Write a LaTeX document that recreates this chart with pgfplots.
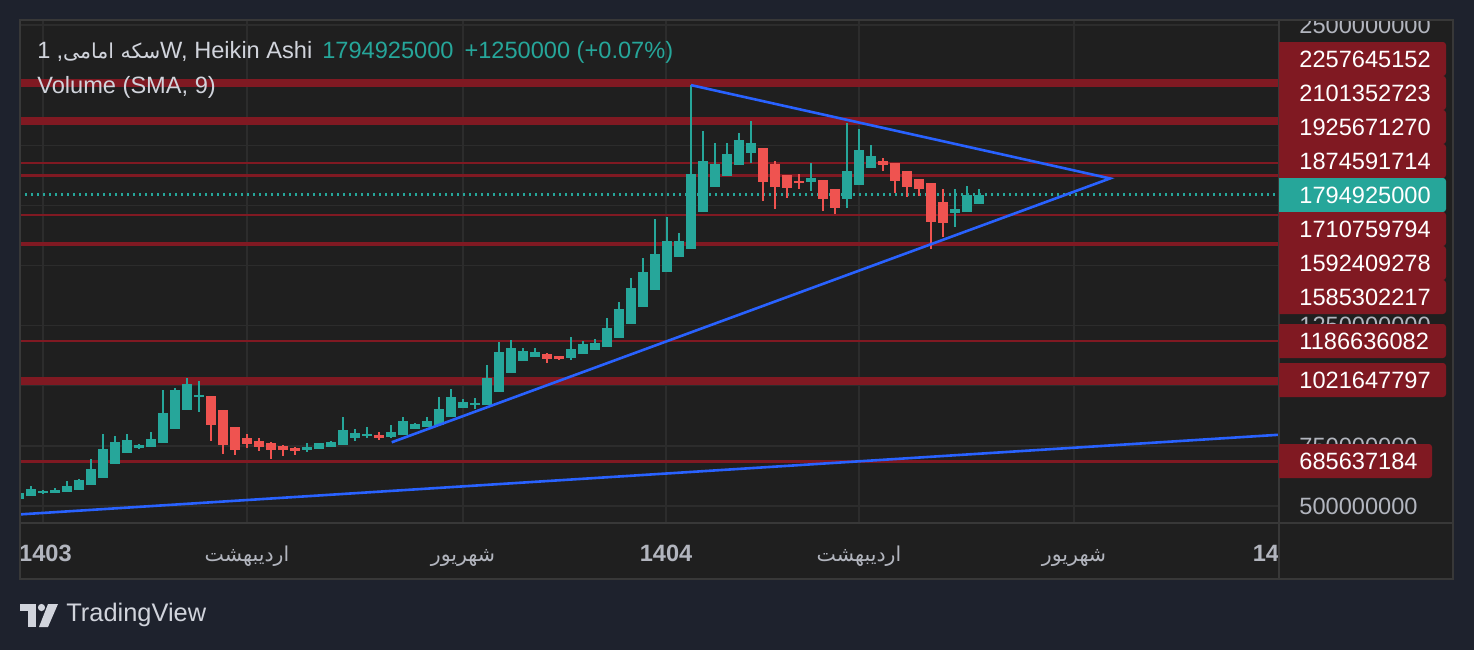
\documentclass[border=0pt]{standalone}
\usepackage{pgfplots}
\pgfplotsset{compat=1.18}
\usepackage{pgfplotstable}
\usepackage{fontspec}
\setmainfont{Liberation Sans}
\newfontfamily\arabicfont[Script=Arabic,Scale=0.87]{DejaVu Sans}
\TeXXeTstate=1
\newcommand\fa[1]{{\arabicfont\beginR #1\endR}}
\newcommand\fs{\fontsize{11.8}{14}\selectfont}
\definecolor{outerbg}{HTML}{1E222D}
\definecolor{panelbg}{HTML}{1F1F1F}
\definecolor{gridc}{HTML}{2C2C2C}
\definecolor{sepc}{HTML}{383838}
\definecolor{upc}{HTML}{26A69A}
\definecolor{dnc}{HTML}{EF5350}
\definecolor{lvl}{HTML}{801922}
\definecolor{trend}{HTML}{2962FF}
\definecolor{txt}{HTML}{B2B5BE}
\definecolor{ttl}{HTML}{D1D4DC}

\pgfplotstableread{
x o h l c
-2 529 554 529 554
-1 542 583 542 571
0 554 567 550 562
1 554 575 554 567
2 558 604 558 583
3 567 612 567 608
4 587 695 587 654
5 616 799 616 737
6 675 791 675 766
7 720 799 720 774
8 742 758 738 752
9 745 808 745 779
10 762 982 762 887
11 820 991 820 982
12 899 1032 899 1007
13 955 1020 891 962
22 733 762 725 745
23 737 762 737 762
24 745 770 745 766
25 754 870 754 816
26 783 820 770 804
27 791 829 783 799
29 787 837 783 808
30 795 870 795 853
31 820 845 820 841
32 829 870 829 853
33 837 953 837 903
34 870 987 870 953
35 908 945 908 932
36 920 949 903 928
37 920 1086 920 1032
38 974 1182 974 1140
39 1053 1190 1053 1157
40 1103 1157 1103 1145
41 1120 1157 1120 1140
44 1115 1203 1107 1153
45 1132 1186 1132 1174
46 1149 1194 1149 1178
47 1161 1282 1161 1240
48 1199 1348 1199 1319
49 1257 1448 1257 1406
50 1327 1531 1327 1473
51 1398 1693 1398 1548
52 1473 1702 1473 1602
53 1535 1635 1535 1602
54 1569 2250 1569 1880
55 1722 2059 1722 1935
56 1826 2009 1826 1922
57 1872 2009 1872 1964
58 1918 2051 1918 2022
59 1968 2101 1926 2009
64 1847 1926 1810 1864
67 1777 2093 1739 1893
68 1835 2068 1835 1980
69 1905 2001 1905 1955
76 1718 1818 1660 1735
77 1722 1831 1722 1793
78 1756 1818 1756 1795
}\uptable

\pgfplotstableread{
x o h l c
14 957 957 770 837
15 899 899 716 754
16 829 829 712 733
17 783 799 741 758
18 770 783 729 745
19 762 766 695 733
20 750 754 708 733
21 741 745 712 729
28 795 808 774 783
42 1132 1136 1095 1111
43 1124 1124 1107 1111
60 1989 1989 1768 1847
61 1922 1935 1735 1826
62 1876 1876 1781 1822
63 1851 1881 1818 1843
65 1856 1856 1727 1777
66 1818 1818 1714 1739
70 1935 1947 1893 1918
71 1926 1926 1802 1851
72 1893 1893 1785 1826
73 1860 1860 1789 1818
74 1843 1843 1569 1681
75 1764 1818 1619 1677
}\downtable

\newcommand\pbox[4]{%
  \fill[#3] (1279,#1) [rounded corners=1.5pt] -- (#2,#1) -- (#2,#1+34) [sharp corners] -- (1279,#1+34) -- cycle;
  \node[anchor=west, inner sep=0pt, text=white, font=\fs] at (1299,#1+17) {#4};}

\begin{document}
\begin{tikzpicture}
\begin{scope}[x=0.5pt,y=-0.5pt,shift={(0,325pt)}]
\path[use as bounding box] (0,0) rectangle (1474,650);
\fill[outerbg] (0,0) rectangle (1474,650);
\fill[panelbg] (20,20) rectangle (1453,579);
\end{scope}

\begin{axis}[
  at={(10pt,63.5pt)}, anchor=south west,
  scale only axis, width=629.5pt, height=251.5pt,
  xmin=-1.9167, xmax=103, ymin=429.3, ymax=2520.8,
  axis line style={draw=sepc, line width=0.6pt},
  major tick length=0pt,
  grid=major, major grid style={draw=gridc, line width=0.7pt},
  xtick={0,17,35,51.92,68,85.92,103},
  xticklabels={{\bfseries\hspace{2.5pt}1403},{\fa{اردیبهشت}},{\fa{شهریور}},{\bfseries 1404},{\fa{اردیبهشت}},{\fa{شهریور}},{\bfseries 1405}},
  xticklabel style={font=\fs, text=txt, anchor=base, inner sep=0pt, yshift=-19pt},
  ytick={500,750,1000,1250,1500,1750,2000,2250,2500},
  yticklabels={500000000,750000000,1000000000,1250000000,1500000000,1750000000,2000000000,2250000000,2500000000},
  yticklabel pos=right,
  yticklabel style={font=\fs, text=txt, anchor=west, inner sep=0pt, xshift=10pt},
  clip=true,
]
% horizontal levels
\addplot[lvl, line width=4pt] coordinates {(-5,2257.645152) (110,2257.645152)};
\addplot[lvl, line width=4pt] coordinates {(-5,2101.352723) (110,2101.352723)};
\addplot[lvl, line width=1.3pt] coordinates {(-5,1925.671270) (110,1925.671270)};
\addplot[lvl, line width=1.3pt] coordinates {(-5,1874.591714) (110,1874.591714)};
\addplot[lvl, line width=1.3pt] coordinates {(-5,1710.759794) (110,1710.759794)};
\addplot[lvl, line width=1.3pt] coordinates {(-5,1592.409278) (110,1592.409278)};
\addplot[lvl, line width=1.3pt] coordinates {(-5,1585.302217) (110,1585.302217)};
\addplot[lvl, line width=1.3pt] coordinates {(-5,1186.636082) (110,1186.636082)};
\addplot[lvl, line width=4pt] coordinates {(-5,1021.647797) (110,1021.647797)};
\addplot[lvl, line width=1.3pt] coordinates {(-5,685.637184) (110,685.637184)};
% last price
\addplot[upc, line width=1.2pt, dash pattern=on 1.1pt off 1.9pt] coordinates {(-5,1794.925) (110,1794.925)};
% wicks
\addplot[draw=none, error bars/.cd, y dir=both, y explicit, error mark=none,
  error bar style={draw=upc, line width=1pt}]
  table[x=x, y expr={(\thisrow{h}+\thisrow{l})/2}, y error expr={(\thisrow{h}-\thisrow{l})/2}] {\uptable};
\addplot[draw=none, error bars/.cd, y dir=both, y explicit, error mark=none,
  error bar style={draw=dnc, line width=1pt}]
  table[x=x, y expr={(\thisrow{h}+\thisrow{l})/2}, y error expr={(\thisrow{h}-\thisrow{l})/2}] {\downtable};
% bodies
\addplot[draw=none, error bars/.cd, y dir=both, y explicit, error mark=none,
  error bar style={draw=upc, line width=5pt}]
  table[x=x, y expr={(\thisrow{o}+\thisrow{c})/2}, y error expr={abs(\thisrow{c}-\thisrow{o})/2}] {\uptable};
\addplot[draw=none, error bars/.cd, y dir=both, y explicit, error mark=none,
  error bar style={draw=dnc, line width=5pt}]
  table[x=x, y expr={(\thisrow{o}+\thisrow{c})/2}, y error expr={abs(\thisrow{c}-\thisrow{o})/2}] {\downtable};
% trend lines
\addplot[trend, line width=1.3pt] coordinates {(-3,461.7) (104,799.4)};
\addplot[trend, line width=1.3pt] coordinates {(29.06,764.9) (88.92,1862) (54,2250)};
\end{axis}

\begin{scope}[x=0.5pt,y=-0.5pt,shift={(0,325pt)}]
\fill[outerbg] (0,0) rectangle (1474,19.6);
\fill[panelbg] (1280,524) rectangle (1452,578);
\draw[sepc, line width=0.6pt] (1279,20) -- (1279,579);
\draw[sepc, line width=0.6pt] (20,523) -- (1453,523);
\draw[sepc, line width=0.6pt] (20,20) rectangle (1453,579);
% price labels
\pbox{42}{1446}{lvl}{2257645152}
\pbox{76}{1446}{lvl}{2101352723}
\pbox{110}{1446}{lvl}{1925671270}
\pbox{144}{1446}{lvl}{1874591714}
\pbox{178}{1446}{upc}{1794925000}
\pbox{212}{1446}{lvl}{1710759794}
\pbox{246}{1446}{lvl}{1592409278}
\pbox{280}{1446}{lvl}{1585302217}
\pbox{324}{1446}{lvl}{1186636082}
\pbox{363}{1446}{lvl}{1021647797}
\pbox{444}{1432}{lvl}{685637184}
% legend text
\node[anchor=base west, inner sep=0pt, text=ttl, font=\fs] at (37,58)
  {1\kern3pt,\fa{سکه امامی}W, Heikin Ashi\hspace{5pt}\textcolor{upc}{1794925000\hspace{5.5pt}+1250000 (+0.07\%)}};
\node[anchor=base west, inner sep=0pt, text=ttl, font=\fs] at (37,93) {Volume (SMA, 9)};
% TradingView logo
\fill[ttl] (20,604) rectangle (36,611);
\fill[ttl] (28,604) rectangle (36,627);
\fill[ttl] (41.5,607.5) circle (3.6);
\fill[ttl] (48,604) -- (58,604) -- (48,627) -- (39,627) -- cycle;
\node[anchor=west, inner sep=0pt, text=ttl, font=\fontsize{12.7}{15}\selectfont] at (66,615) {TradingView};
\end{scope}
\end{tikzpicture}
\end{document}
